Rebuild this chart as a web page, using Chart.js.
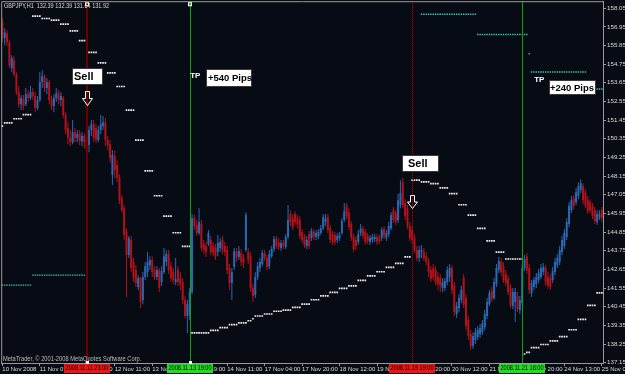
<!DOCTYPE html>
<html>
<head>
<meta charset="utf-8">
<title>GBPJPY,H1</title>
<script src="https://cdn.jsdelivr.net/npm/chart.js@4.4.1/dist/chart.umd.min.js"></script>
<style>
  html, body { margin: 0; padding: 0; background: #070b13; overflow: hidden; }
  canvas { display: block; }
</style>
</head>
<body>
<canvas id="chart" width="625" height="374"></canvas>
<script>
// GBPJPY H1 bars (one entry per hourly bar)
const openPrices = [
  157.22,156.28,156.57,156.04,154.51,154.98,154.15,153.10,152.39,152.69,
  152.39,152.98,152.75,153.10,152.87,152.16,152.63,153.69,154.04,153.34,
  153.69,152.63,152.28,152.75,153.04,152.63,152.75,151.75,150.98,150.39,
  150.15,150.74,150.39,150.63,150.21,150.51,150.27,149.98,150.86,151.21,
  150.98,150.27,150.86,151.10,151.33,150.27,150.03,148.21,149.33,148.80,
  148.03,146.85,146.26,144.85,143.50,144.38,143.08,142.61,141.61,142.14,
  140.84,142.20,142.49,142.90,143.20,142.61,142.20,142.61,141.90,142.49,
  143.08,143.55,142.84,142.49,141.90,142.61,142.14,141.90,140.84,139.90,
  139.96,141.31,145.67,145.26,144.79,145.32,144.15,144.03,144.15,144.38,
  144.03,143.91,143.67,143.91,144.38,144.03,143.79,142.73,141.84,142.79,
  143.67,143.38,143.61,143.32,143.79,143.67,143.43,141.55,141.14,142.20,
  142.73,142.96,143.61,143.32,142.84,143.43,143.85,144.44,144.26,143.91,
  144.20,143.97,144.56,145.91,145.67,145.91,145.67,145.56,144.85,144.56,
  144.03,144.73,144.50,144.85,144.56,144.62,144.79,145.08,145.44,145.73,
  145.08,144.73,144.68,144.38,144.50,144.79,145.56,146.38,146.02,145.32,
  144.56,144.38,144.26,144.79,145.03,144.85,144.62,144.26,144.38,144.44,
  144.56,144.50,144.50,145.03,144.50,144.73,145.08,146.14,145.97,145.56,
  146.44,147.79,146.56,146.26,145.20,144.97,144.50,143.79,143.32,143.67,
  143.67,143.43,143.08,142.61,142.73,142.61,142.20,142.14,141.55,141.55,
  141.90,142.20,142.73,141.72,140.02,140.37,140.84,142.14,140.96,139.66,
  138.84,138.13,138.48,138.66,138.84,138.95,139.25,139.90,140.60,141.37,
  140.96,141.78,142.61,143.08,142.84,142.37,142.08,141.55,140.49,140.72,
  141.08,140.25,140.66,142.73,143.43,142.73,141.25,141.61,141.78,142.02,
  142.20,142.49,142.73,142.20,142.14,142.02,142.49,142.90,143.08,143.67,
  144.03,144.56,145.32,146.14,146.85,146.61,146.97,147.32,147.56,147.20,
  146.73,146.61,146.38,146.14,145.44,145.73,146.14
];
const highPrices = [
  157.46,156.87,156.75,156.16,155.28,155.22,154.27,153.46,152.93,152.93,
  153.34,153.22,153.46,153.34,153.10,152.87,154.27,154.39,154.15,153.93,
  153.81,152.87,152.98,153.34,153.22,153.10,152.87,151.92,151.33,150.86,
  151.45,150.98,150.86,150.86,150.74,150.68,150.39,151.10,151.45,151.45,
  151.21,151.10,151.75,151.69,151.57,150.51,150.27,149.68,149.68,149.09,
  148.26,147.03,146.44,145.08,144.62,144.62,143.32,142.90,142.31,142.20,
  142.49,143.08,143.67,143.43,143.43,142.84,142.84,142.73,142.84,143.91,
  143.79,143.79,143.08,142.73,143.32,142.84,142.49,142.14,141.08,140.84,
  141.55,145.91,145.85,145.56,146.26,145.56,144.38,144.26,144.97,144.62,
  144.26,144.15,144.68,144.50,144.62,144.26,144.03,142.96,142.73,143.91,
  143.91,144.03,143.85,143.55,146.02,143.91,143.67,141.78,142.49,143.08,
  143.32,143.79,143.79,143.50,143.79,144.03,144.62,144.62,144.50,144.38,
  144.38,144.73,146.44,146.14,145.91,146.08,145.85,145.79,145.03,144.73,
  144.62,144.91,145.08,145.03,144.97,145.03,145.26,145.91,145.91,145.91,
  145.26,144.91,144.85,144.79,144.85,145.67,146.56,146.56,146.26,145.50,
  144.73,144.62,144.97,145.32,145.20,145.03,144.79,144.68,144.73,144.73,
  144.73,144.68,145.14,145.20,144.97,145.44,146.02,146.32,146.14,147.09,
  147.91,148.03,146.79,146.44,145.44,145.20,144.73,144.03,144.03,144.09,
  143.91,143.67,143.32,142.84,142.96,142.84,142.49,142.37,142.14,142.14,
  142.84,142.96,142.90,141.90,140.72,141.19,141.67,142.37,141.19,139.90,
  139.07,138.95,139.19,139.31,139.42,139.66,140.25,140.96,141.43,141.61,
  142.14,142.96,143.38,143.32,143.08,142.61,142.31,141.78,141.55,141.55,
  141.31,141.08,142.96,143.50,143.61,142.96,142.02,142.20,142.43,142.67,
  142.96,143.02,142.90,142.49,142.37,142.79,143.32,143.55,144.03,144.62,
  145.03,145.67,146.61,146.97,147.03,147.44,147.79,147.97,147.73,147.38,
  146.97,146.79,146.56,146.32,146.14,146.14,146.32
];
const lowPrices = [
  156.04,155.87,155.81,154.51,154.27,154.04,152.93,152.16,152.04,152.04,
  152.28,152.51,152.63,152.63,151.92,152.04,152.51,153.34,153.10,152.98,
  152.39,152.04,151.92,152.51,152.39,152.28,151.57,150.63,150.03,149.92,
  150.03,150.15,150.15,149.98,149.92,149.80,149.50,149.56,150.51,150.15,
  150.09,150.15,150.63,150.86,149.92,149.68,148.97,147.62,148.03,147.79,
  146.49,146.02,144.38,141.02,143.32,142.49,141.90,141.61,141.43,140.37,
  140.60,142.02,142.20,142.61,142.20,142.02,142.02,141.31,141.67,142.37,
  142.84,142.37,141.90,141.78,141.72,141.67,141.43,140.60,139.78,138.90,
  139.66,141.19,144.97,144.62,144.68,143.73,143.55,143.38,144.03,143.50,
  143.43,143.20,143.43,143.67,143.55,143.43,142.37,141.43,140.84,142.61,
  143.08,143.20,142.84,142.73,143.67,142.96,141.31,140.72,140.96,142.02,
  142.49,142.84,143.14,142.61,142.67,143.32,143.67,143.85,143.79,143.73,
  143.85,143.85,144.44,145.20,144.97,145.26,145.08,144.44,144.20,143.91,
  143.85,143.85,144.32,144.38,144.38,144.44,144.68,144.97,145.20,144.79,
  144.20,144.09,144.09,144.20,144.32,144.68,145.44,145.61,144.97,144.32,
  143.67,143.79,144.09,144.62,144.44,144.09,144.15,144.09,144.20,144.26,
  144.09,144.15,144.32,144.44,144.32,144.56,144.97,145.38,145.26,145.38,
  146.26,146.26,145.56,145.03,144.32,144.15,143.61,143.14,143.08,143.32,
  143.14,142.90,142.20,141.90,142.02,141.72,141.43,141.31,141.31,141.37,
  141.72,141.90,141.19,139.90,139.78,140.13,140.66,140.37,139.07,138.48,
  137.89,137.95,138.25,138.48,138.60,138.78,139.07,139.72,140.49,140.72,
  140.84,141.61,142.43,142.31,141.84,141.67,141.14,140.37,140.31,139.54,
  140.13,140.02,140.49,142.55,142.37,141.19,141.02,141.43,141.55,141.84,
  142.08,142.31,141.67,141.49,141.43,141.84,142.31,142.73,142.90,143.50,
  143.85,144.38,145.14,145.97,146.20,146.44,146.79,147.15,146.49,146.26,
  145.91,145.97,145.61,145.32,145.26,145.56,145.44
];
const closePrices = [
  156.28,156.63,156.04,154.69,155.10,154.15,153.10,152.39,152.75,152.28,
  152.98,152.75,153.10,152.87,152.16,152.63,153.69,154.04,153.34,153.69,
  152.63,152.28,152.75,153.04,152.63,152.87,151.75,150.86,150.39,150.15,
  150.74,150.39,150.63,150.21,150.51,150.15,149.62,150.86,151.21,150.39,
  150.27,150.86,151.21,151.33,150.27,149.98,149.21,149.39,148.50,148.03,
  146.73,146.14,144.68,143.50,144.50,142.73,142.14,141.84,142.14,140.72,
  142.20,142.84,143.08,143.20,142.49,142.20,142.61,141.55,142.55,143.43,
  143.55,142.61,142.14,142.02,142.08,141.90,141.78,140.84,139.90,140.60,
  141.31,145.67,145.20,144.79,145.44,143.91,143.79,143.67,144.79,143.67,
  143.61,143.43,144.20,144.26,143.79,143.67,142.61,141.84,142.49,143.73,
  143.38,143.73,143.08,143.02,145.85,143.20,141.55,141.08,142.20,142.84,
  143.08,143.61,143.32,142.79,143.55,143.85,144.44,144.03,143.97,144.20,
  144.03,144.56,145.56,145.44,145.14,145.44,145.32,144.62,144.38,144.09,
  144.38,144.03,144.91,144.56,144.79,144.85,145.08,145.73,145.67,144.97,
  144.38,144.26,144.26,144.62,144.68,145.50,146.08,145.79,145.14,144.50,
  143.85,144.03,144.73,145.08,144.62,144.26,144.32,144.50,144.56,144.56,
  144.26,144.32,144.97,144.62,144.79,145.20,145.85,145.56,145.44,146.73,
  147.15,146.44,145.79,145.20,144.50,144.38,143.79,143.32,143.79,143.79,
  143.32,143.08,142.49,142.08,142.20,141.90,141.78,141.67,141.90,141.96,
  142.61,142.73,141.43,140.13,140.49,140.96,141.43,140.55,139.31,138.72,
  138.13,138.72,138.95,139.07,139.19,139.48,140.02,140.72,141.25,140.90,
  141.90,142.73,143.14,142.49,142.02,141.84,141.31,140.55,141.31,141.31,
  140.31,140.84,142.73,143.26,142.61,141.43,141.84,142.02,142.20,142.43,
  142.73,142.79,141.90,141.72,141.61,142.55,143.08,143.32,143.79,144.38,
  144.79,145.44,146.38,146.73,146.38,147.20,147.56,147.73,146.73,146.44,
  146.08,146.14,145.79,145.50,145.91,145.91,145.67
];

// white stepped stop dots (one value per bar)
const stopLine = [
  151.10,151.29,151.29,151.29,151.29,151.53,151.53,151.53,151.53,151.77,
  151.77,151.77,151.77,157.58,157.58,157.58,157.58,157.44,157.44,157.44,
  157.44,157.34,157.34,157.34,157.34,157.11,157.11,157.11,157.11,156.71,
  156.71,156.71,156.71,156.14,156.14,156.14,156.14,155.44,155.44,155.44,
  155.44,154.82,154.82,154.82,154.82,154.24,154.24,154.24,154.24,153.43,
  153.43,153.43,153.43,152.04,152.04,152.04,152.04,150.27,150.27,150.27,
  150.27,148.46,148.46,148.46,148.46,146.99,146.99,146.99,146.99,145.79,
  145.79,145.79,145.79,144.81,144.81,144.81,144.81,144.01,144.01,144.01,
  144.01,138.91,138.91,138.91,138.91,138.91,138.91,138.91,138.91,139.05,
  139.05,139.05,139.05,139.21,139.21,139.21,139.21,139.39,139.39,139.39,
  139.39,139.50,139.50,139.50,139.50,139.62,139.62,139.74,139.90,139.90,
  139.90,139.90,140.02,140.02,140.02,140.02,140.18,140.18,140.18,140.18,
  140.25,140.25,140.25,140.25,140.41,140.41,140.41,140.41,140.60,140.60,
  140.60,140.60,140.86,140.86,140.86,140.86,141.09,141.09,141.09,141.09,
  141.29,141.29,141.29,141.29,141.53,141.53,141.53,141.53,141.68,141.68,
  141.68,141.68,142.00,142.00,142.00,142.00,142.27,142.27,142.27,142.27,
  142.51,142.51,142.51,142.51,142.77,142.77,142.77,142.77,143.00,143.00,
  143.00,143.00,143.39,143.39,143.39,147.91,147.91,147.91,147.91,147.81,
  147.81,147.81,147.81,147.71,147.71,147.71,147.71,147.46,147.46,147.46,
  147.46,147.11,147.11,147.11,147.11,146.46,146.46,146.46,146.46,145.85,
  145.85,145.85,145.85,145.07,145.07,145.07,145.07,144.33,144.33,144.33,
  144.33,143.67,143.67,143.67,143.67,143.26,143.26,143.26,143.26,143.26,
  143.26,143.26,143.26,137.66,137.76,137.76,138.04,138.04,138.04,138.04,
  138.22,138.22,138.22,138.22,138.44,138.44,138.44,138.44,138.68,138.68,
  138.68,138.68,139.09,139.09,139.09,139.09,139.70,139.70,139.70,139.70,
  140.53,140.53,140.53,140.53,141.27,141.27,141.27
];

// teal level dots (one value per bar, null where nothing is drawn)
const levelLine = [
  141.72,141.72,141.72,141.72,141.72,141.72,141.72,141.72,141.72,141.72,
  141.72,141.72,141.72,142.31,142.31,142.31,142.31,142.31,142.31,142.31,
  142.31,142.31,142.31,142.31,142.31,142.31,142.31,142.31,142.31,142.31,
  142.31,142.31,142.31,142.31,142.31,142.31,142.31,null,null,null,
  null,null,null,null,null,null,null,null,null,null,
  null,null,null,null,null,null,null,null,null,null,
  null,null,null,null,null,null,null,null,null,null,
  null,null,null,null,null,null,null,null,null,null,
  null,null,null,null,null,null,null,null,null,null,
  null,null,null,null,null,null,null,null,null,null,
  null,null,null,null,null,null,null,null,null,null,
  null,null,null,null,null,null,null,null,null,null,
  null,null,null,null,null,null,null,null,null,null,
  null,null,null,null,null,null,null,null,null,null,
  null,null,null,null,null,null,null,null,null,null,
  null,null,null,null,null,null,null,null,null,null,
  null,null,null,null,null,null,null,null,null,null,
  null,null,null,null,null,null,null,null,null,157.69,
  157.69,157.69,157.69,157.69,157.69,157.69,157.69,157.69,157.69,157.69,
  157.69,157.69,157.69,157.69,157.69,157.69,157.69,157.69,157.69,157.69,
  157.69,157.69,157.69,156.50,156.50,156.50,156.50,156.50,156.50,156.50,
  156.50,156.50,156.50,156.50,156.50,156.50,156.50,156.50,156.50,156.50,
  156.50,156.50,156.50,156.50,156.50,155.36,154.29,154.29,154.29,154.29,
  154.29,154.29,154.29,154.29,154.29,154.29,154.29,154.29,154.29,154.29,
  154.29,154.29,154.29,154.29,154.29,154.29,154.29,154.29,154.29,154.29,
  null,null,null,null,153.28,153.28,153.28
];

// time axis labels, one every 16 bars
const timeLabels = [
  '10 Nov 2008', '11 Nov 03:00', '11 Nov 19:00', '12 Nov 11:00', '13 Nov 03:00',
  '13 Nov 19:00', '14 Nov 11:00', '17 Nov 04:00', '17 Nov 20:00', '18 Nov 12:00',
  '19 Nov 04:00', '19 Nov 20:00', '20 Nov 12:00', '21 Nov 04:00', '21 Nov 20:00',
  '24 Nov 13:00', '25 Nov 05:00'
];
const priceTicks = [
  137.15, 138.25, 139.35, 140.45, 141.55, 142.65, 143.75, 144.85, 145.95, 147.05,
  148.15, 149.25, 150.35, 151.45, 152.55, 153.65, 154.75, 155.85, 156.95, 158.05
];

// vertical lines put on the chart (bar index) with their time stamps
const lineBars = [36, 80, 175, 222];
const lineStamps = ['2008.11.11 23:00', '2008.11.13 19:00', '2008.11.19 19:00', '2008.11.21 18:00'];

const bullColor = '#2b68b3';
const bearColor = '#b3121b';
const axisColor = '#9a9a9a';
const textColor = '#dcdcdc';
const sans = "'Liberation Sans', Arial, sans-serif";

const lineStyles = [
  { color: '#6a0000', width: 2, dotted: false, stampBg: '#f01414', handle: true },
  { color: '#10a010', width: 1, dotted: false, stampBg: '#22dd22', handle: true },
  { color: '#d00000', width: 1, dotted: true, stampBg: '#f01414', handle: false },
  { color: '#10a010', width: 1, dotted: false, stampBg: '#22dd22', handle: false }
];

// text boxes placed at (bar, price) of their top-left corner
const noteBoxes = [
  { text: 'Sell', bar: 29.8, price: 154.51, w: 31, h: 17, size: 11, pad: 2 },
  { text: '+540 Pips', bar: 87.0, price: 154.45, w: 46, h: 18, size: 9.5, pad: 2 },
  { text: 'Sell', bar: 170.7, price: 149.39, w: 37, h: 17, size: 11, pad: 6 },
  { text: '+240 Pips', bar: 233.5, price: 153.81, w: 47, h: 15, size: 9.5, pad: 1 }
];
const tpNotes = [ { bar: 80.2, price: 154.28 }, { bar: 227.1, price: 154.04 } ];
const arrowNotes = [
  { bar: 36, top: 153.16, bottom: 152.33 },
  { bar: 175, top: 147.03, bottom: 146.26 }
];

const bars = openPrices.map((_, i) => i);
const candleColor = ctx => closePrices[ctx.dataIndex] >= openPrices[ctx.dataIndex] ? bullColor : bearColor;

// small, horizontally squeezed text like the terminal font
function squeezedText(c, text, x, y, size, squeeze, align) {
  c.save();
  c.font = size + 'px ' + sans;
  c.textAlign = align || 'left';
  c.textBaseline = 'middle';
  c.translate(x, y);
  c.scale(squeeze, 1);
  c.fillText(text, 0, 0);
  c.restore();
}

const overlay = {
  id: 'overlay',
  beforeDraw(chart) {
    const c = chart.ctx;
    c.save();
    c.fillStyle = '#070b13';
    c.fillRect(0, 0, chart.width, chart.height);
    c.restore();
  },
  afterDatasetsDraw(chart) {
    const { ctx: c, chartArea: a, scales: { x } } = chart;
    c.save();
    // vertical lines
    lineBars.forEach((b, k) => {
      const st = lineStyles[k];
      const px = Math.round(x.getPixelForValue(b));
      c.fillStyle = st.color;
      if (st.dotted) {
        for (let yy = a.top; yy < a.bottom; yy += 2) c.fillRect(px, yy, 1, 1);
      } else {
        c.fillRect(px - (st.width > 1 ? 1 : 0), a.top, st.width, a.bottom - a.top);
      }
      if (st.handle) {
        c.fillRect(px - 2, a.top + 1, 4, 4);
        c.strokeStyle = '#ffffff';
        c.lineWidth = 1;
        c.strokeRect(px - 1.5, a.top + 1.5, 3, 3);
        c.fillStyle = '#ffffff';
        c.fillRect(px - 1, a.bottom - 2, 3, 3);
      }
    });
    // frame on left and top
    c.strokeStyle = axisColor;
    c.lineWidth = 1;
    c.beginPath();
    c.moveTo(a.left + 0.5, a.bottom);
    c.lineTo(a.left + 0.5, a.top + 0.5);
    c.lineTo(a.right, a.top + 0.5);
    c.stroke();
    c.restore();
  },
  afterDraw(chart) {
    const { ctx: c, chartArea: a, scales: { x, y } } = chart;
    c.save();
    // header and copyright
    c.fillStyle = textColor;
    squeezedText(c, 'GBPJPY,H1  132.39 132.39 131.64 131.92', 4, 6, 7, 0.79);
    c.fillStyle = '#bdbdbd';
    squeezedText(c, 'MetaTrader, \u00a9 2001-2008 MetaQuotes Software Corp.', 3, 359, 7, 0.82);

    // time stamps of the vertical lines on the time axis
    lineBars.forEach((b, k) => {
      const px = Math.round(x.getPixelForValue(b));
      c.fillStyle = lineStyles[k].stampBg;
      c.fillRect(px - 23, a.bottom + 1, 46, 9);
      c.fillStyle = '#000000';
      squeezedText(c, lineStamps[k], px, a.bottom + 5.5, 7, 0.8, 'center');
    });

    // text boxes
    noteBoxes.forEach(n => {
      const bx = Math.round(x.getPixelForValue(n.bar));
      const by = Math.round(y.getPixelForValue(n.price));
      c.fillStyle = '#ffffff';
      c.fillRect(bx, by, n.w, n.h);
      c.strokeStyle = '#3a3a3a';
      c.lineWidth = 1;
      c.strokeRect(bx + 0.5, by + 0.5, n.w - 1, n.h - 1);
      c.fillStyle = '#000000';
      c.font = 'bold ' + n.size + 'px ' + sans;
      c.textAlign = 'left';
      c.textBaseline = 'middle';
      c.fillText(n.text, bx + n.pad, by + n.h / 2 + 0.5);
    });

    // TP labels
    c.fillStyle = '#ffffff';
    c.font = 'bold 8px ' + sans;
    c.textAlign = 'left';
    c.textBaseline = 'top';
    tpNotes.forEach(t => {
      c.fillText('TP', x.getPixelForValue(t.bar), y.getPixelForValue(t.price));
    });

    // hollow down arrows
    c.strokeStyle = '#ffffff';
    c.lineWidth = 1;
    arrowNotes.forEach(ar => {
      const cx = Math.round(x.getPixelForValue(ar.bar)) + 0.5;
      const t = Math.round(y.getPixelForValue(ar.top)) + 0.5;
      const bt = Math.round(y.getPixelForValue(ar.bottom)) + 0.5;
      const mid = t + (bt - t) * 0.5;
      c.beginPath();
      c.moveTo(cx - 2, t);
      c.lineTo(cx + 2, t);
      c.lineTo(cx + 2, mid);
      c.lineTo(cx + 5, mid);
      c.lineTo(cx, bt);
      c.lineTo(cx - 5, mid);
      c.lineTo(cx - 2, mid);
      c.closePath();
      c.stroke();
    });
    c.restore();
  }
};

new Chart(document.getElementById('chart'), {
  type: 'bar',
  data: {
    labels: bars,
    datasets: [
      {
        type: 'line', data: stopLine, showLine: false,
        pointStyle: 'rect', pointRadius: 1.2, pointHoverRadius: 1.2,
        pointBackgroundColor: '#ececec', pointBorderWidth: 0
      },
      {
        type: 'line', data: levelLine, showLine: false,
        pointStyle: 'rect', pointRadius: 1, pointHoverRadius: 1,
        pointBackgroundColor: '#3cc6ad', pointBorderWidth: 0
      },
      {
        data: bars.map(i => [openPrices[i], closePrices[i]]),
        backgroundColor: candleColor, barThickness: 2, grouped: false,
        minBarLength: 1, inflateAmount: 0, borderWidth: 0
      },
      {
        data: bars.map(i => [lowPrices[i], highPrices[i]]),
        backgroundColor: candleColor, barThickness: 1, grouped: false,
        inflateAmount: 0, borderWidth: 0
      }
    ]
  },
  options: {
    responsive: false,
    devicePixelRatio: 1,
    animation: false,
    events: [],
    layout: { padding: { left: 1, top: 1, right: 0, bottom: 0 } },
    plugins: { legend: { display: false }, tooltip: { enabled: false } },
    scales: {
      x: {
        type: 'category',
        offset: true,
        grid: {
          offset: false, drawOnChartArea: false, tickLength: 3,
          color: ctx => ctx.index % 16 === 0 ? axisColor : 'rgba(0,0,0,0)'
        },
        border: { color: axisColor },
        ticks: {
          autoSkip: false, maxRotation: 0, minRotation: 0, align: 'start', padding: 0,
          color: textColor, font: { family: sans, size: 6 },
          callback: (v, i) => i % 16 === 0 ? timeLabels[i / 16] : ''
        },
        afterFit: s => { s.height = 11; s.paddingLeft = 0; s.paddingRight = 0; }
      },
      y: {
        position: 'right',
        min: 137.13,
        max: 158.46,
        afterBuildTicks: s => { s.ticks = priceTicks.map(v => ({ value: v })); },
        grid: { drawOnChartArea: false, tickLength: 3, color: axisColor },
        border: { color: axisColor },
        ticks: {
          padding: 1, color: textColor, font: { family: sans, size: 6.2 },
          callback: v => v.toFixed(2)
        },
        afterFit: s => { s.width = 22; s.paddingTop = 0; s.paddingBottom = 0; }
      }
    }
  },
  plugins: [overlay]
});
</script>
</body>
</html>
